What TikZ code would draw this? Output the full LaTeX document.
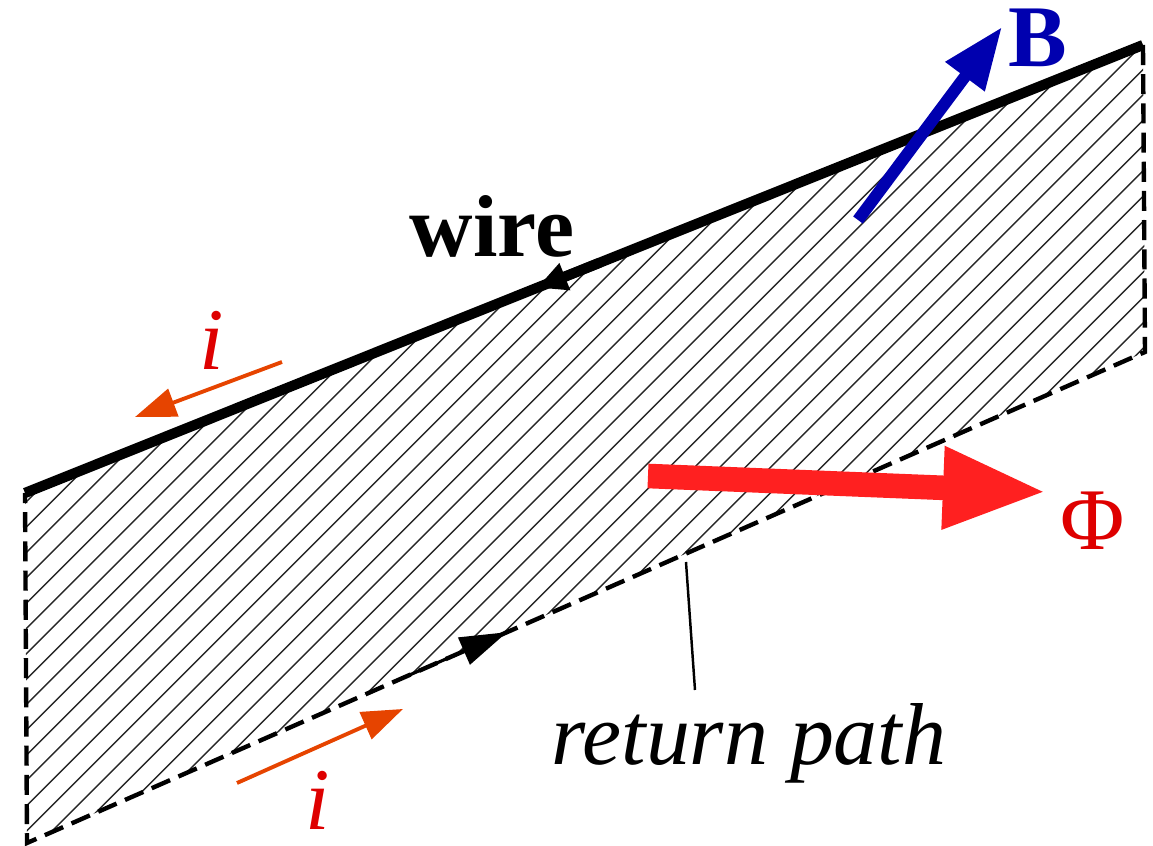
\documentclass[tikz,border=0pt]{standalone}
\usepackage{fontspec}
\setmainfont{Liberation Serif}
\usepackage{tikz}
\usetikzlibrary{arrows.meta}
\definecolor{fluxred}{RGB}{255,32,32}
\definecolor{labred}{RGB}{222,0,0}
\definecolor{curorange}{RGB}{230,68,0}
\definecolor{fieldblue}{RGB}{0,0,175}

\begin{document}
\begin{tikzpicture}[x=0.01cm, y=-0.01cm,
      every node/.style={font=\fontsize{25}{30}\selectfont, inner sep=0pt},
      hatch/.style={black!85, line width=0.4pt},
      loopedge/.style={line width=1.25pt, dash pattern=on 5.7pt off 2.6pt},
      wireline/.style={line width=2.9pt},
      cur/.style={curorange, line width=1.1pt, -{Triangle[length=0.41cm, width=0.29cm]}},
      curlab/.style={labred, font=\fontsize{25}{30}\selectfont\itshape, anchor=base}
    ]
      \useasboundingbox (0,0) rectangle (1153,846);

      % corners of the loop
      \coordinate (tl) at (25,493);
      \coordinate (tr) at (1143,45);
      \coordinate (br) at (1145,352);
      \coordinate (bl) at (27,843);

      % hatched area
      \begin{scope}
        \clip (tl) -- (tr) -- (br) -- (bl) -- cycle;
        \foreach \k in {-6,...,34} {
          \pgfmathsetmacro\hc{1364.7-25.35*\k}
          \draw[hatch] (0,\hc) -- (\hc,0);
        }
      \end{scope}

      % return path and wire
      \draw[loopedge] (tr) -- (br) -- (bl) -- (tl);
      \draw[wireline] (tl) -- (tr);
      \coordinate (wa) at (600,262.6);
      \coordinate (wb) at (537,287.8);
      \draw[wireline, -{Triangle[length=0.3cm, width=0.27cm]}] (wa) -- (wb);
      \coordinate (ra) at (410,674.8);
      \coordinate (rb) at (507,632.2);
      \draw[line width=0.9pt, -{Triangle[length=0.47cm, width=0.29cm]}] (ra) -- (rb);

      % labels
      \node[font=\fontsize{25}{30}\selectfont\bfseries, anchor=base] (wirelab) at (492,257) {wire};
      \node[font=\fontsize{25}{30}\selectfont\itshape, anchor=base] (retlab) at (749,765) {return path};
      \coordinate (rp) at (686,562);
      \coordinate (rq) at (695,690);
      \draw[line width=0.7pt] (rp) -- (rq);

      % field B
      \coordinate (b0) at (858,220);
      \coordinate (b1) at (1002,27);
      \draw[fieldblue, line width=3.4pt, -{Triangle[length=0.62cm, width=0.46cm]}] (b0) -- (b1);
      \node[fieldblue, font=\fontsize{25}{30}\selectfont\bfseries, anchor=base] (blab) at (1038,67) {B};

      % flux
      \coordinate (f0) at (648,476);
      \coordinate (f1) at (1047,492);
      \draw[fluxred, line width=7pt, -{Triangle[length=1.04cm, width=0.76cm]}] (f0) -- (f1);
      \node[labred, anchor=base] (philab) at (1093,550) {Φ};

      % currents
      \coordinate (i0) at (282,362);
      \coordinate (i1) at (135,417);
      \draw[cur] (i0) -- (i1);
      \node[curlab] (itop) at (212,370) {i};
      \coordinate (j0) at (237,783);
      \coordinate (j1) at (403,709);
      \draw[cur] (j0) -- (j1);
      \node[curlab] (ibot) at (318,830) {i};
    \end{tikzpicture}
\end{document}
